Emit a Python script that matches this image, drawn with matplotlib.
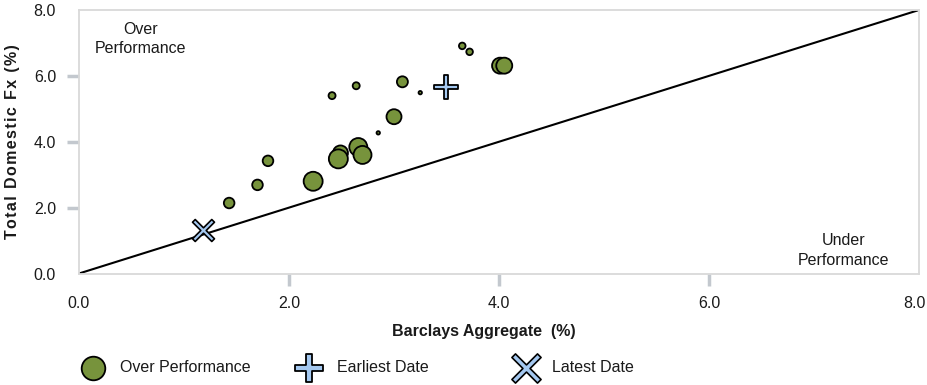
import numpy as np
import matplotlib.pyplot as plt
from matplotlib.path import Path
from matplotlib.lines import Line2D
from matplotlib.transforms import ScaledTranslation

plt.rcParams['font.family'] = ['Liberation Sans', 'DejaVu Sans']

# data
over_x = [1.43, 1.70, 1.80, 2.23, 2.41, 2.64, 3.08, 3.25, 3.65, 3.72, 4.01, 4.05,
          3.00, 2.85, 2.49, 2.47, 2.66, 2.70]
over_y = [2.14, 2.69, 3.42, 2.80, 5.40, 5.70, 5.82, 5.49, 6.91, 6.73, 6.31, 6.31,
          4.76, 4.27, 3.66, 3.48, 3.84, 3.60]
over_r = [5.3, 5.3, 5.3, 9.5, 3.5, 3.5, 5.5, 1.7, 3.3, 3.3, 8, 8,
          7.5, 1.7, 7.5, 9.5, 9, 9]   # radius in px
earliest = (3.50, 5.67)
latest = (1.18, 1.32)
ticks = [0, 2, 4, 6, 8]
tick_labels = ["0.0", "2.0", "4.0", "6.0", "8.0"]
legend_labels = ["Over Performance", "Earliest Date", "Latest Date"]

green = "#77933C"
blue = "#A4C8F0"
txt = "#1a1a1a"
fs = 11.5

# thin plus / cross markers
w = 0.2
plus_v = [(-w, 1), (w, 1), (w, w), (1, w), (1, -w), (w, -w), (w, -1), (-w, -1),
          (-w, -w), (-1, -w), (-1, w), (-w, w), (-w, 1)]
plus_m = Path(plus_v, closed=True)
c, s = np.cos(np.pi / 4), np.sin(np.pi / 4)
w2 = 0.14
x_v = [(-w2, 1), (w2, 1), (w2, w2), (1, w2), (1, -w2), (w2, -w2), (w2, -1), (-w2, -1),
       (-w2, -w2), (-1, -w2), (-1, w2), (-w2, w2), (-w2, 1)]
cross_m = Path([(x * c - y * s, x * s + y * c) for x, y in x_v], closed=True)

fig = plt.figure(figsize=(9.28, 3.85), dpi=100)
ax = fig.add_axes([79 / 928, 1 - 273.5 / 385, 840 / 928, 263.5 / 385])

ax.plot([0, 8], [0, 8], color="black", lw=1.5, zorder=1)

sizes = [(2 * r * 0.72) ** 2 for r in over_r]
ax.scatter(over_x, over_y, s=sizes, c=green, edgecolors="black", linewidths=1.3, zorder=3)
ax.scatter([earliest[0]], [earliest[1]], s=275, marker=plus_m, c=blue,
           edgecolors="black", linewidths=1.3, zorder=4)
ax.scatter([latest[0]], [latest[1]], s=250, marker=cross_m, c=blue,
           edgecolors="black", linewidths=1.2, zorder=4)

ax.text(0.59, 7.12, "Over\nPerformance", ha="center", va="center", fontsize=fs,
        linespacing=1.35, color=txt)
ax.text(7.28, 0.70, "Under\nPerformance", ha="center", va="center", fontsize=fs,
        linespacing=1.35, color=txt)

ax.set_xlim(0, 8)
ax.set_ylim(0, 8)
ax.set_xticks(ticks)
ax.set_xticklabels(tick_labels)
ax.set_yticks(ticks)
ax.set_yticklabels(tick_labels)
ax.tick_params(axis="both", length=8.5, width=2.5, color="#C3C8CE", labelsize=fs,
               labelcolor=txt, pad=8)
for axis in (ax.xaxis, ax.yaxis):
    t = axis.get_major_ticks()
    t[0].tick1line.set_visible(False)
    t[-1].tick1line.set_visible(False)
for sp in ax.spines.values():
    sp.set_color("#D9D9D9")
    sp.set_linewidth(1.3)

# last x label sits slightly inside the figure edge
last = ax.get_xticklabels()[-1]
last.set_transform(last.get_transform() + ScaledTranslation(-5 / 100, 0, fig.dpi_scale_trans))

ax.set_xlabel("Barclays Aggregate  (%)", fontsize=fs, fontweight="bold", color=txt)
ax.xaxis.set_label_coords((484 - 79) / 840, -0.19)
hair = "\u200a"
ax.set_ylabel(hair.join("Total Domestic Fx (%)"), fontsize=fs, fontweight="bold", color=txt)
ax.yaxis.set_label_coords(-59 / 840, 0.5)

# legend row drawn by hand so the uneven spacing matches
leg_y = 1 - 368 / 385
handles = [
    dict(x=93, marker="o", ms=17, mew=1.3),
    dict(x=309, marker=plus_m, ms=19.5, mew=1.3),
    dict(x=526, marker=cross_m, ms=21, mew=1.2),
]
text_x = [120, 337, 552]
for h, lab, tx in zip(handles, legend_labels, text_x):
    fc = green if h["marker"] == "o" else blue
    fig.add_artist(Line2D([h["x"] / 928], [leg_y], transform=fig.transFigure, ls="none",
                          marker=h["marker"], ms=h["ms"], mfc=fc, mec="black", mew=h["mew"]))
    fig.text(tx / 928, leg_y, lab, ha="left", va="center", fontsize=fs, color=txt)

fig.savefig("out.png", dpi=100)
